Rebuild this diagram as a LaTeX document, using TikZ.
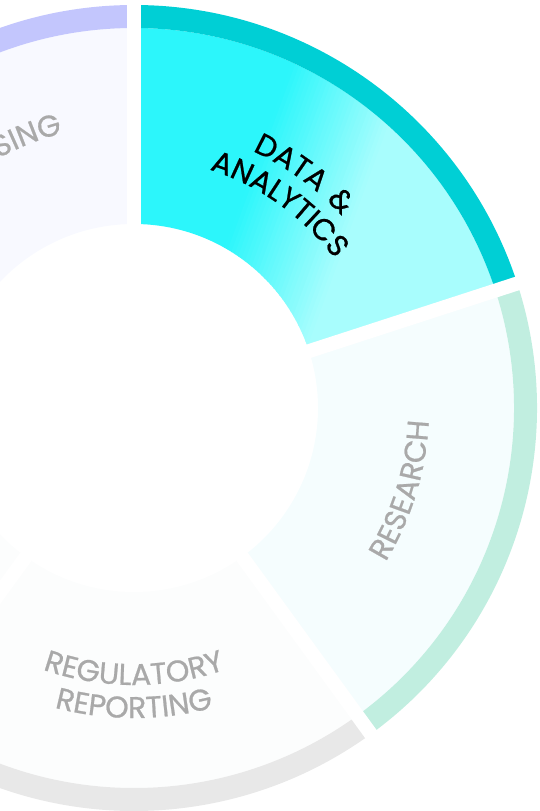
\documentclass[tikz,border=0pt]{standalone}
\usepackage{fontspec}
\newfontfamily\labfont{Poppins}[LetterSpace=10, FakeBold=0.7]
\usetikzlibrary{calc,decorations.text}

\definecolor{lavband}{HTML}{C3C6FD}
\definecolor{lavfill}{HTML}{F8F9FF}
\definecolor{daband}{HTML}{00CFD5}
\definecolor{dasat}{HTML}{2CF6FB}
\definecolor{dalight}{HTML}{A8FDFD}
\definecolor{resband}{HTML}{C1EEE0}
\definecolor{resfill}{HTML}{F5FDFE}
\definecolor{regband}{HTML}{E8E8E8}
\definecolor{regfill}{HTML}{FCFDFD}
\definecolor{labgray}{HTML}{A9A9A9}

\tikzset{
  gap/.style={white, line width=14},
  seglabel/.style={decorate, decoration={text along path, text align=center, text color=labgray}},
}

\begin{document}
\begin{tikzpicture}[x=1pt,y=1pt]
  \useasboundingbox (-134,-403) rectangle (405,408);
  \clip (-134,-403) rectangle (405,408);
  \coordinate(O) at (0,0);
  \fill[lavfill] (90:184) arc[start angle=90, end angle=162, radius=184]
    -- (162:380) arc[start angle=162, end angle=90, radius=380] -- cycle;
  \fill[lavband] (90:380) arc[start angle=90, end angle=162, radius=380]
    -- (162:403) arc[start angle=162, end angle=90, radius=403] -- cycle;
  \begin{scope}
    \clip (18:184) arc[start angle=18, end angle=90, radius=184]
      -- (90:380) arc[start angle=90, end angle=18, radius=380] -- cycle;
    \begin{scope}[rotate=-20]
      \fill[dasat] (-450,-450) rectangle (30.6,450);
      \foreach \k in {0,...,27}{
        \pgfmathsetmacro\p{int(100*(4*\k+2)/112)}
        \fill[dalight!\p!dasat] (30+4*\k,-450) rectangle (34.6+4*\k,450);
      }
      \fill[dalight] (142,-450) rectangle (450,450);
    \end{scope}
  \end{scope}
  \fill[daband] (18:380) arc[start angle=18, end angle=90, radius=380]
    -- (90:403) arc[start angle=90, end angle=18, radius=403] -- cycle;
  \fill[resfill] (-54:184) arc[start angle=-54, end angle=18, radius=184]
    -- (18:380) arc[start angle=18, end angle=-54, radius=380] -- cycle;
  \fill[resband] (-54:380) arc[start angle=-54, end angle=18, radius=380]
    -- (18:403) arc[start angle=18, end angle=-54, radius=403] -- cycle;
  \fill[regfill] (-126:184) arc[start angle=-126, end angle=-54, radius=184]
    -- (-54:380) arc[start angle=-54, end angle=-126, radius=380] -- cycle;
  \fill[regband] (-126:380) arc[start angle=-126, end angle=-54, radius=380]
    -- (-54:403) arc[start angle=-54, end angle=-126, radius=403] -- cycle;
  \fill[regfill] (162:184) arc[start angle=162, end angle=234, radius=184]
    -- (234:403) arc[start angle=234, end angle=162, radius=403] -- cycle;
  \draw[gap] (O) -- (90:420);
  \draw[gap] (O) -- (18:420);
  \draw[gap] (O) -- (-54:420);
  \draw[gap] (O) -- (-126:420);
  \draw[gap] (O) -- (162:420);
  \path[seglabel, decoration={text color=black,
    text={|\labfont\fontsize{30}{30}\selectfont|DATA {\&}}}]
    (90:283) arc[start angle=90, end angle=18, radius=283];
  \path[seglabel, decoration={text color=black,
    text={|\labfont\fontsize{30}{30}\selectfont|ANALYTICS}}]
    (90.5:250) arc[start angle=90.5, end angle=18.5, radius=250];
  \path[seglabel, decoration={text={|\labfont\fontsize{30}{30}\selectfont|RESEARCH}}]
    (-52:295) arc[start angle=-52, end angle=18, radius=295];
  \path[seglabel, decoration={text={|\labfont\fontsize{30}{30}\selectfont|REGULATORY}}]
    (-126:277) arc[start angle=-126, end angle=-54, radius=277];
  \path[seglabel, decoration={text={|\labfont\fontsize{30}{30}\selectfont|REPORTING}}]
    (-126:310) arc[start angle=-126, end angle=-54, radius=310];
  \path[seglabel, decoration={text align=right,
    text={|\labfont\fontsize{30}{30}\selectfont|SING}}]
    (162:284) arc[start angle=162, end angle=104.5, radius=284];
\end{tikzpicture}
\end{document}
